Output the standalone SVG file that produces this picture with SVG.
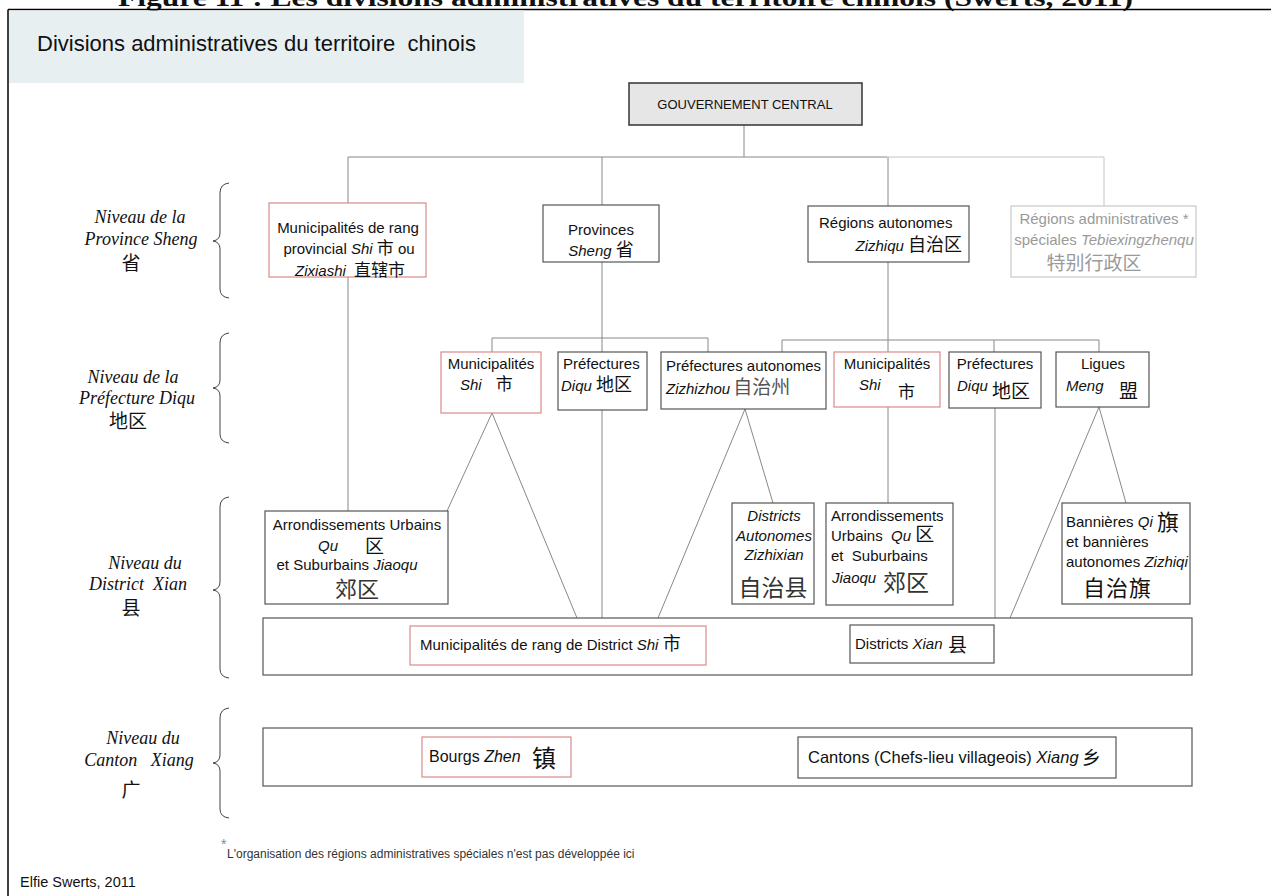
<svg xmlns="http://www.w3.org/2000/svg" width="1271" height="896" viewBox="0 0 1271 896">
<style>
text{font-family:"Liberation Sans","Noto Sans CJK SC",sans-serif;font-size:15px;fill:#111}
.it{font-style:italic}
.cjk{font-family:"Noto Sans CJK SC",sans-serif;font-size:19px}
.lbl{font-family:"Liberation Serif","Noto Sans CJK SC",serif;font-style:italic;font-size:18px;text-anchor:middle}
.lblc{font-family:"Noto Sans CJK SC",sans-serif;font-size:19px;text-anchor:middle}
.box{fill:#fff;stroke:#555;stroke-width:1.2}
.red{fill:#fff;stroke:#d98a8a;stroke-width:1.2}
.gry{fill:#fff;stroke:#c8c8c8;stroke-width:1.2}
.mid{text-anchor:middle}
.g{fill:#9a9a9a}
.ln{stroke:#888;stroke-width:1;fill:none}
.lnl{stroke:#c4c4c4;stroke-width:1;fill:none}
.br{stroke:#444;stroke-width:1;fill:none}
</style>
<rect width="1271" height="896" fill="#fff"/>
<text x="118" y="6" textLength="1015" lengthAdjust="spacingAndGlyphs" style="font-family:'Liberation Serif',serif;font-size:26px;font-weight:bold">Figure 11 : Les divisions administratives du territoire chinois (Swerts, 2011)</text>
<path d="M8 9.5H1271M8 9.5V896" stroke="#000" stroke-width="1.5" fill="none"/>
<rect x="9" y="10.5" width="515" height="72.5" fill="#e8eff1"/>
<text x="37" y="51" xml:space="preserve" style="font-size:22px">Divisions administratives du territoire  chinois</text>

<g id="braces">
<path class="br" d="M229 183Q220 184 220 193V233Q220 240 213 241Q220 242 220 249V289Q220 297 229 298"/>
<path class="br" d="M229 333Q220 334 220 343V380Q220 387 213 388Q220 389 220 396V434Q220 442 229 443"/>
<path class="br" d="M229 497Q220 498 220 507V582Q220 589 213 590Q220 591 220 598V669Q220 677 229 678"/>
<path class="br" d="M229 708Q220 709 220 718V755Q220 762 213 763Q220 764 220 771V809Q220 817 229 818"/>
</g>
<g id="levels">
<text class="lbl" x="140" y="223">Niveau de la</text>
<text class="lbl" x="141" y="245">Province Sheng</text>
<text class="lblc" x="131" y="270">省</text>
<text class="lbl" x="133" y="383">Niveau de la</text>
<text class="lbl" x="137" y="404">Préfecture Diqu</text>
<text class="lblc" x="128" y="428">地区</text>
<text class="lbl" x="145" y="569">Niveau du</text>
<text class="lbl" x="138" y="590" xml:space="preserve">District  Xian</text>
<text class="lblc" x="131" y="615">县</text>
<text class="lbl" x="143" y="744">Niveau du</text>
<text class="lbl" x="139" y="766" xml:space="preserve">Canton   Xiang</text>
<text class="lblc" x="131" y="797">广</text>
</g>

<g id="connectors">
<path class="ln" d="M744 125V157M348 157H887M348 157V203M602 157V205M888 157V206"/>
<path class="lnl" d="M887 157H1104V206"/>
<path class="ln" d="M348 277V511M602 262V352M492 338H708M492 338V352M708 338V352M888 262V352M782 340H1099M782 340V352M994 340V352M1099 340V352"/>
<path class="ln" d="M492 413L447 511M492 413L577 618M602 410V618M745 409L658 618M745 409L773 503M888 407V503M995 408V618M1099 407L1010 618M1099 407L1126 503"/>
</g>

<g id="gouvernement">
<rect x="629" y="83" width="233" height="42" fill="#e6e6e6" stroke="#333" stroke-width="1.5"/>
<text class="mid" x="745" y="109" style="font-size:13px">GOUVERNEMENT CENTRAL</text>
</g>

<g id="municipalites-provinciales">
<rect class="red" x="269" y="203" width="157" height="74"/>
<text class="mid" x="348" y="233">Municipalités de rang</text>
<text class="mid" x="349" y="254">provincial <tspan class="it">Shi</tspan> <tspan class="cjk" style="font-size:17px">市</tspan> ou</text>
<text x="295" y="276"><tspan class="it">Zixiashi</tspan>  <tspan class="cjk" dx="4" style="font-size:17px">直辖市</tspan></text>
</g>
<g id="provinces">
<rect class="box" x="543" y="205" width="116" height="57"/>
<text class="mid" x="601" y="235">Provinces</text>
<text class="mid" x="601" y="256"><tspan class="it">Sheng</tspan> <tspan class="cjk" style="font-size:18px">省</tspan></text>
</g>
<g id="regions-autonomes">
<rect class="box" x="808" y="206" width="161" height="56"/>
<text x="819" y="228">Régions autonomes</text>
<text x="962" y="251" text-anchor="end"><tspan class="it">Zizhiqu</tspan> <tspan class="cjk" style="font-size:18px">自治区</tspan></text>
</g>
<g id="regions-speciales">
<rect class="gry" x="1011" y="206" width="185" height="71"/>
<text class="mid g" x="1104" y="224">Régions administratives *</text>
<text class="mid g" x="1104" y="245">spéciales <tspan class="it g">Tebiexingzhenqu</tspan></text>
<text class="mid g cjk" x="1094" y="270">特别行政区</text>
</g>

<g id="municipalites-shi-1">
<rect class="red" x="441" y="352" width="100" height="61"/>
<text class="mid" x="491" y="369">Municipalités</text>
<text x="460" y="390"><tspan class="it">Shi</tspan><tspan class="cjk" dx="14" style="font-size:17px">市</tspan></text>
</g>
<g id="prefectures-1">
<rect class="box" x="558" y="352" width="89" height="58"/>
<text x="563" y="369">Préfectures</text>
<text x="561" y="391"><tspan class="it">Diqu</tspan> <tspan class="cjk" style="font-size:18px">地区</tspan></text>
</g>
<g id="prefectures-autonomes">
<rect class="box" x="661" y="352" width="165" height="57"/>
<text x="666" y="371">Préfectures autonomes</text>
<text x="666" y="394"><tspan class="it">Zizhizhou</tspan><tspan class="cjk" dx="3" style="fill:#555">自治州</tspan></text>
</g>
<g id="municipalites-shi-2">
<rect class="red" x="834" y="352" width="106" height="55"/>
<text class="mid" x="887" y="369">Municipalités</text>
<text x="859" y="390" class="it">Shi</text>
<text class="cjk" x="898" y="398" style="font-size:17px">市</text>
</g>
<g id="prefectures-2">
<rect class="box" x="949" y="352" width="92" height="56"/>
<text class="mid" x="995" y="369">Préfectures</text>
<text x="957" y="391" class="it">Diqu</text>
<text class="cjk" x="992" y="398">地区</text>
</g>
<g id="ligues">
<rect class="box" x="1056" y="352" width="93" height="55"/>
<text class="mid" x="1103" y="369">Ligues</text>
<text x="1066" y="391" class="it">Meng</text>
<text class="cjk" x="1119" y="398">盟</text>
</g>

<g id="arrondissements-1">
<rect class="box" x="265" y="511" width="183" height="93"/>
<text class="mid" x="357" y="530">Arrondissements Urbains</text>
<text x="318" y="551" class="it">Qu</text>
<text class="cjk" x="365" y="553">区</text>
<text class="mid" x="347" y="570">et Suburbains <tspan class="it">Jiaoqu</tspan></text>
<text class="mid cjk" x="357" y="597" style="font-size:22px;fill:#333">郊区</text>
</g>
<g id="districts-autonomes">
<rect class="box" x="732" y="503" width="82" height="101"/>
<text class="mid it" x="774" y="521">Districts</text>
<text class="mid it" x="774" y="541">Autonomes</text>
<text class="mid it" x="774" y="560">Zizhixian</text>
<text class="mid cjk" x="773" y="596" style="font-size:23px;fill:#333">自治县</text>
</g>
<g id="arrondissements-2">
<rect class="box" x="826" y="503" width="127" height="102"/>
<text x="831" y="521">Arrondissements</text>
<text x="831" y="541" xml:space="preserve">Urbains  <tspan class="it">Qu</tspan> <tspan class="cjk">区</tspan></text>
<text x="831" y="561" xml:space="preserve">et  Suburbains</text>
<text x="832" y="583" class="it">Jiaoqu</text>
<text class="cjk" x="883" y="591" style="font-size:23px;fill:#333">郊区</text>
</g>
<g id="bannieres">
<rect class="box" x="1062" y="503" width="128" height="101"/>
<text x="1066" y="527">Bannières <tspan class="it">Qi</tspan></text>
<text class="cjk" x="1157" y="530" style="font-size:22px">旗</text>
<text x="1066" y="547">et bannières</text>
<text x="1066" y="567">autonomes <tspan class="it">Zizhiqi</tspan></text>
<text class="cjk" x="1083" y="596" style="font-size:22px;letter-spacing:1px">自治旗</text>
</g>

<g id="niveau-district">
<rect class="box" x="263" y="618" width="929" height="57"/>
</g>
<g id="municipalites-district">
<rect class="red" x="410" y="626" width="296" height="39"/>
<text x="420" y="650">Municipalités de rang de District <tspan class="it">Shi</tspan> <tspan class="cjk" style="font-size:18px">市</tspan></text>
</g>
<g id="districts-xian">
<rect class="box" x="850" y="625" width="144" height="38"/>
<text x="855" y="649">Districts <tspan class="it">Xian</tspan></text>
<text class="cjk" x="948" y="652">县</text>
</g>

<g id="niveau-canton">
<rect class="box" x="263" y="728" width="929" height="58"/>
</g>
<g id="bourgs">
<rect class="red" x="422" y="737" width="149" height="40"/>
<text x="429" y="762" style="font-size:16px">Bourgs <tspan class="it">Zhen</tspan></text>
<text class="cjk" x="532" y="767" style="font-size:24px">镇</text>
</g>
<g id="cantons">
<rect class="box" x="798" y="737" width="318" height="41"/>
<text x="808" y="763" style="font-size:16.5px">Cantons (Chefs-lieu villageois) <tspan class="it">Xiang</tspan></text>
<text class="cjk" x="1082" y="765">乡</text>
</g>

<text x="221" y="849" style="font-size:14px;fill:#888">*</text>
<text x="227" y="858" style="font-size:12px;fill:#333">L'organisation des régions administratives spéciales n'est pas développée ici</text>
<text x="20" y="887" style="font-size:14.5px">Elfie Swerts, 2011</text>
</svg>
